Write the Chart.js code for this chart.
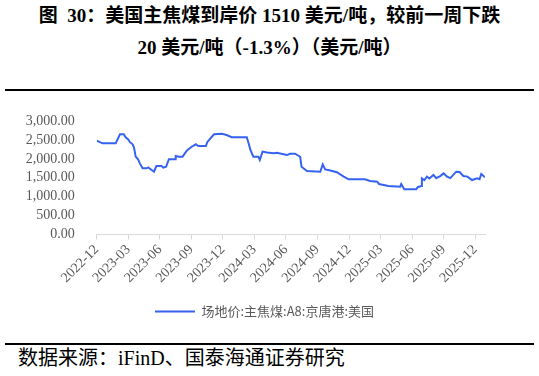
<!DOCTYPE html>
<html>
<head>
<meta charset="utf-8">
<script src="https://cdn.jsdelivr.net/npm/chart.js@4.4.1/dist/chart.umd.min.js"></script>
<style>
  body { margin: 0; background: #fff; width: 539px; height: 376px; position: relative; overflow: hidden; }
  .title { position: absolute; left: 0; top: 0; width: 539px; text-align: center; font-family: "Liberation Serif", "Noto Sans CJK SC", serif; font-weight: bold; font-size: 19px; line-height: 32px; color: #000; }
  .rule { position: absolute; left: 5px; width: 529px; height: 2px; background: #000; }
  .source { position: absolute; left: 18px; top: 347px; font-family: "Liberation Serif", "Noto Sans CJK SC", serif; font-size: 20px; line-height: 22px; color: #000; }
  #c { position: absolute; left: 0; top: 95px; }
</style>
</head>
<body>
<div class="title">图&nbsp; 30：美国主焦煤到岸价 1510 美元/吨，较前一周下跌<br>20 美元/吨（-1.3%）（美元/吨）</div>
<div class="rule" style="top:89px"></div>
<canvas id="c" width="539" height="245"></canvas>
<div class="rule" style="top:343px"></div>
<div class="source">数据来源：iFinD、国泰海通证券研究</div>
<script>
const seriesName = '场地价:主焦煤:A8:京唐港:美国';
const tickLabels = ['2022-12','2023-03','2023-06','2023-09','2023-12','2024-03','2024-06','2024-09','2024-12','2025-03','2025-06','2025-09','2025-12'];
const dates = [
  '2022-12-01','2022-12-18','2023-01-26','2023-02-07','2023-02-17','2023-02-22','2023-03-01','2023-03-06',
  '2023-03-14','2023-03-18','2023-03-23','2023-03-30','2023-04-04','2023-04-12','2023-04-23','2023-04-28',
  '2023-05-06','2023-05-15','2023-05-22','2023-06-06','2023-06-11','2023-06-19','2023-06-27','2023-07-15',
  '2023-07-17','2023-07-27','2023-08-06','2023-08-13','2023-08-20','2023-09-02','2023-09-14','2023-09-21',
  '2023-10-13','2023-10-17','2023-10-27','2023-11-06','2023-11-28','2023-12-12','2023-12-27','2024-02-09',
  '2024-02-14','2024-02-19','2024-02-27','2024-03-13','2024-03-17','2024-03-25','2024-04-07','2024-04-26',
  '2024-05-05','2024-06-04','2024-06-13','2024-06-27','2024-07-12','2024-07-16','2024-08-01','2024-09-09',
  '2024-09-16','2024-09-23','2024-10-08','2024-10-27','2024-11-16','2024-11-30','2025-01-17','2025-02-01',
  '2025-02-20','2025-02-25','2025-03-24','2025-04-27','2025-04-30','2025-05-09','2025-06-13','2025-06-17',
  '2025-06-27','2025-06-29','2025-07-06','2025-07-14','2025-07-21','2025-08-02','2025-08-10','2025-08-22',
  '2025-09-01','2025-09-11','2025-09-20','2025-10-07','2025-10-17','2025-10-28','2025-11-09','2025-11-22',
  '2025-12-07','2025-12-14','2025-12-19','2025-12-30'
];
const prices = [
  2480,2410,2410,2650,2650,2570,2515,2440,
  2385,2300,2060,1990,1880,1750,1750,1775,
  1720,1660,1810,1810,1765,1790,1990,1990,
  2075,2055,2055,2145,2230,2320,2385,2340,
  2340,2440,2545,2650,2660,2630,2570,2570,
  2410,2235,2055,2055,1970,2190,2165,2145,
  2160,2100,2135,2135,2055,1790,1680,1660,
  1855,1720,1690,1645,1530,1460,1460,1415,
  1395,1335,1280,1265,1335,1195,1195,1250,
  1280,1485,1440,1530,1480,1575,1490,1545,
  1615,1530,1490,1660,1650,1545,1530,1440,
  1485,1460,1600,1510
];

// months since 2022-12-01
function monthIndex(s) {
  const [y, m, d] = s.split('-').map(Number);
  const dim = new Date(y, m, 0).getDate();
  return (y - 2022) * 12 + (m - 12) + (d - 1) / dim;
}
const points = dates.map((d, i) => ({ x: monthIndex(d), y: prices[i] }));
const xMax = points[points.length - 1].x;

const gray = '#595959';
const blue = '#3563f0';

// legend sits centred on the page, not on the padded box
const shiftLegend = {
  id: 'shiftLegend',
  afterLayout(chart) {
    chart.legend.left += 22;
    chart.legend.right += 22;
  }
};

new Chart(document.getElementById('c'), {
  type: 'line',
  data: {
    datasets: [{
      label: seriesName,
      data: points,
      borderColor: blue,
      backgroundColor: blue,
      borderWidth: 2,
      pointRadius: 0,
      tension: 0
    }]
  },
  options: {
    responsive: false,
    devicePixelRatio: 1,
    animation: false,
    layout: { padding: { left: 0, right: 54, top: 26, bottom: 12 } },
    plugins: {
      tooltip: { enabled: false },
      legend: {
        position: 'bottom',
        labels: {
          usePointStyle: true,
          pointStyle: 'line',
          pointStyleWidth: 40,
          boxHeight: 12,
          padding: 10,
          color: gray,
          font: { family: '"Noto Sans CJK SC", sans-serif', size: 13 }
        }
      }
    },
    scales: {
      x: {
        type: 'linear',
        min: 0,
        max: xMax,
        afterFit: s => { s.height = 60.5; },
        grid: { display: true, drawOnChartArea: false, drawTicks: true, tickLength: 5, color: '#d9d9d9' },
        border: { display: true, color: '#d9d9d9' },
        ticks: {
          stepSize: 3,
          includeBounds: false,
          autoSkip: false,
          minRotation: 45,
          maxRotation: 45,
          padding: 2,
          color: gray,
          font: { family: '"Liberation Serif", serif', size: 14 },
          callback: v => (Number.isInteger(v) && v % 3 === 0) ? tickLabels[v / 3] : null
        }
      },
      y: {
        min: 0,
        max: 3000,
        afterFit: s => { s.width = 96.7; },
        grid: { display: false },
        border: { display: false },
        ticks: {
          stepSize: 500,
          autoSkip: false,
          padding: 14,
          color: gray,
          font: { family: '"Liberation Serif", serif', size: 14 },
          callback: v => v.toLocaleString('en-US', { minimumFractionDigits: 2, maximumFractionDigits: 2 })
        }
      }
    }
  },
  plugins: [shiftLegend]
});
</script>
</body>
</html>
